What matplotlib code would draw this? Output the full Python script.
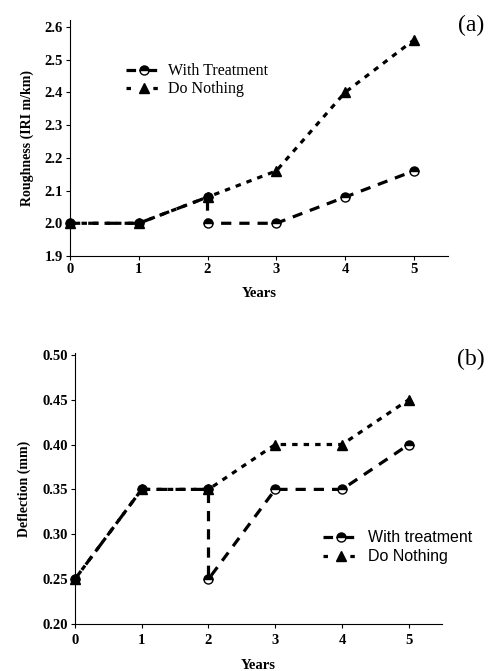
import matplotlib.pyplot as plt
from matplotlib.lines import Line2D

# Panel (a): roughness
years_treat = [0, 1, 2, 2, 3, 4, 5]
rough_treat = [2.0, 2.0, 2.08, 2.0, 2.0, 2.08, 2.16]
years_none = [0, 1, 2, 3, 4, 5]
rough_none = [2.0, 2.0, 2.08, 2.16, 2.40, 2.56]

# Panel (b): deflection
defl_treat = [0.25, 0.35, 0.35, 0.25, 0.35, 0.35, 0.40]
defl_none = [0.25, 0.35, 0.35, 0.40, 0.40, 0.45]

rough_ticks = [1.9, 2.0, 2.1, 2.2, 2.3, 2.4, 2.5, 2.6]
defl_ticks = [0.20, 0.25, 0.30, 0.35, 0.40, 0.45, 0.50]

serif = 'Liberation Serif'
sans = 'Liberation Sans'

fig = plt.figure(figsize=(4.93, 6.71), dpi=100)
ax1 = fig.add_axes([0.142, 0.6185, 0.767, 0.3515])
ax2 = fig.add_axes([0.152, 0.070, 0.745, 0.404])

mk_treat = dict(marker='o', ms=6.5, fillstyle='top', markerfacecolor='black',
                markerfacecoloralt='white', markeredgecolor='black', mew=1.0)
mk_none = dict(marker='^', ms=7.5, markerfacecolor='black', markeredgecolor='black')

treat_style = dict(color='black', lw=2.3, dashes=(3.2, 2.5), **mk_treat)
none_style = dict(color='black', lw=2.3, dashes=(1.7, 1.9), **mk_none)

# legend handles: dash - marker - dash
treat_leg = Line2D([], [], color='black', lw=2.3, dashes=(3.0, 3.6), **mk_treat)
none_leg = Line2D([], [], color='black', lw=2.3, dashes=(1.4, 7.0), **mk_none)


def style_axes(ax, ylab, yticks, ylim, ylab_fmt, xpad):
    for s in ['top', 'right']:
        ax.spines[s].set_visible(False)
    ax.set_xlim(0, 5.5)
    ax.set_ylim(*ylim)
    ax.set_xticks([0, 1, 2, 3, 4, 5])
    ax.set_yticks(yticks)
    ax.set_yticklabels([ylab_fmt.format(v) for v in yticks])
    ax.tick_params(direction='out', length=3, width=0.8, pad=2)
    ax.tick_params(axis='x', pad=xpad)
    for lab in ax.get_xticklabels() + ax.get_yticklabels():
        lab.set_fontfamily(serif)
        lab.set_fontweight('bold')
        lab.set_fontsize(10.5)
    ax.set_xlabel('Years', fontfamily=serif, fontweight='bold', fontsize=10.5,
                  labelpad=8)
    ax.set_ylabel(ylab, fontfamily=serif, fontweight='bold', fontsize=10,
                  labelpad=8)


ax1.plot(years_treat, rough_treat, clip_on=False, zorder=3, **treat_style)
ax1.plot(years_none, rough_none, clip_on=False, zorder=4, **none_style)
style_axes(ax1, 'Roughness (IRI m/km)', rough_ticks, (1.9, 2.621), '{:.1f}', 2)

ax1.legend([treat_leg, none_leg], ['With Treatment', 'Do Nothing'],
           loc='upper left', bbox_to_anchor=(0.128, 0.85), frameon=False,
           prop={'family': serif, 'size': 11.5}, handlelength=2.2,
           handletextpad=0.4, labelspacing=0.1, borderpad=0)

ax2.plot(years_treat, defl_treat, clip_on=False, zorder=3, **treat_style)
ax2.plot(years_none, defl_none, clip_on=False, zorder=4, **none_style)
style_axes(ax2, 'Deflection (mm)', defl_ticks, (0.2, 0.502), '{:.2f}', 4.5)

ax2.legend([treat_leg, none_leg], ['With treatment', 'Do Nothing'],
           loc='upper left', bbox_to_anchor=(0.655, 0.375), frameon=False,
           prop={'family': sans, 'size': 11.5}, handlelength=2.2,
           handletextpad=0.6, labelspacing=0.25, borderpad=0)

fig.text(0.955, 0.962, '(a)', fontfamily=serif, fontsize=17, ha='center', va='center')
fig.text(0.955, 0.465, '(b)', fontfamily=serif, fontsize=17, ha='center', va='center')

fig.savefig('out.png', dpi=100)
